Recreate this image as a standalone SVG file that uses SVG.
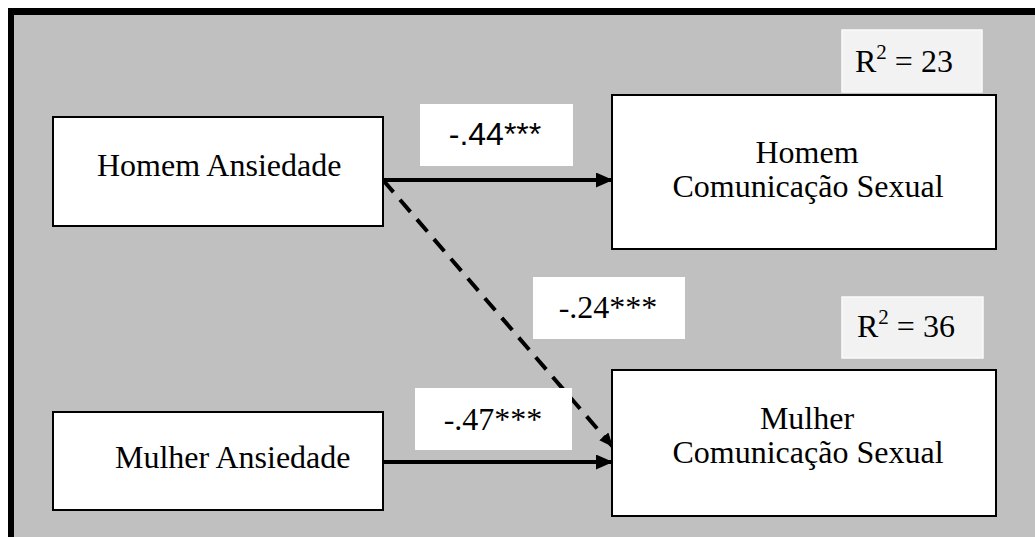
<svg xmlns="http://www.w3.org/2000/svg" width="1035" height="537" viewBox="0 0 1035 537">
  <style>
    .node { fill: #ffffff; stroke: #000000; stroke-width: 2; }
    .lbl { fill: #ffffff; stroke: none; }
    .r2 { fill: #f2f2f2; stroke: #fafafa; stroke-width: 1.5; }
    .serif { font-family: "Liberation Serif", "Times New Roman", serif; font-size: 32px; fill: #000000; }
    .sans { font-family: "Liberation Sans", Arial, sans-serif; font-size: 32px; fill: #000000; }
    .path { fill: none; stroke: #000000; stroke-width: 4; }
    .dash { stroke-dasharray: 16 10; }
  </style>
  <defs>
    <marker id="head" markerUnits="userSpaceOnUse" markerWidth="20" markerHeight="16" refX="17" refY="7.5" orient="auto">
      <path d="M0,0 L17,7.5 L0,15 Z" fill="#000000"/>
    </marker>
    <marker id="headSmall" markerUnits="userSpaceOnUse" markerWidth="16" markerHeight="14" refX="14" refY="6" orient="auto">
      <path d="M0,0 L14,6 L0,12 Z" fill="#000000"/>
    </marker>
  </defs>

  <!-- frame: grey panel with heavy black top and left edge -->
  <rect x="0" y="0" width="1035" height="537" fill="#ffffff"/>
  <rect x="8" y="8" width="1027" height="529" fill="#c0c0c0"/>
  <rect x="8" y="8" width="1027" height="7" fill="#000000"/>
  <rect x="8" y="8" width="6" height="529" fill="#000000"/>

  <!-- connectors -->
  <g id="connectors">
    <line class="path" x1="383" y1="180" x2="613" y2="180" marker-end="url(#head)"/>
    <line class="path dash" x1="383" y1="180" x2="613" y2="447" marker-end="url(#headSmall)"/>
    <line class="path" x1="383" y1="462" x2="613" y2="462" marker-end="url(#head)"/>
  </g>

  <!-- path coefficients -->
  <g id="coef-homem">
    <rect class="lbl" x="420" y="104" width="153" height="62"/>
    <text class="sans" x="495" y="145" text-anchor="middle">-.44***</text>
  </g>
  <g id="coef-cross">
    <rect class="lbl" x="533" y="277" width="152" height="62"/>
    <text class="serif" x="608" y="318" text-anchor="middle">-.24***</text>
  </g>
  <g id="coef-mulher">
    <rect class="lbl" x="415" y="388" width="157" height="62"/>
    <text class="serif" x="493" y="430" text-anchor="middle">-.47***</text>
  </g>

  <!-- explained variance -->
  <g id="r2-homem">
    <rect class="r2" x="842" y="30" width="140" height="62"/>
    <text class="serif" x="855" y="72">R<tspan font-size="21" dy="-13">2</tspan><tspan dy="13"> = 23</tspan></text>
  </g>
  <g id="r2-mulher">
    <rect class="r2" x="842" y="297" width="141" height="61"/>
    <text class="serif" x="857" y="337">R<tspan font-size="21" dy="-13">2</tspan><tspan dy="13"> = 36</tspan></text>
  </g>

  <!-- nodes -->
  <g id="homem-ansiedade">
    <rect class="node" x="53" y="117" width="330" height="109"/>
    <text class="serif" x="97" y="176">Homem Ansiedade</text>
  </g>
  <g id="mulher-ansiedade">
    <rect class="node" x="53" y="412" width="330" height="98"/>
    <text class="serif" x="115" y="468">Mulher Ansiedade</text>
  </g>
  <g id="homem-comunicacao">
    <rect class="node" x="612" y="95" width="384" height="154"/>
    <text class="serif" x="807" y="163" text-anchor="middle">Homem</text>
    <text class="serif" x="808" y="197" text-anchor="middle">Comunicação Sexual</text>
  </g>
  <g id="mulher-comunicacao">
    <rect class="node" x="612" y="370" width="384" height="146"/>
    <text class="serif" x="807" y="429" text-anchor="middle">Mulher</text>
    <text class="serif" x="808" y="463" text-anchor="middle">Comunicação Sexual</text>
  </g>
</svg>
